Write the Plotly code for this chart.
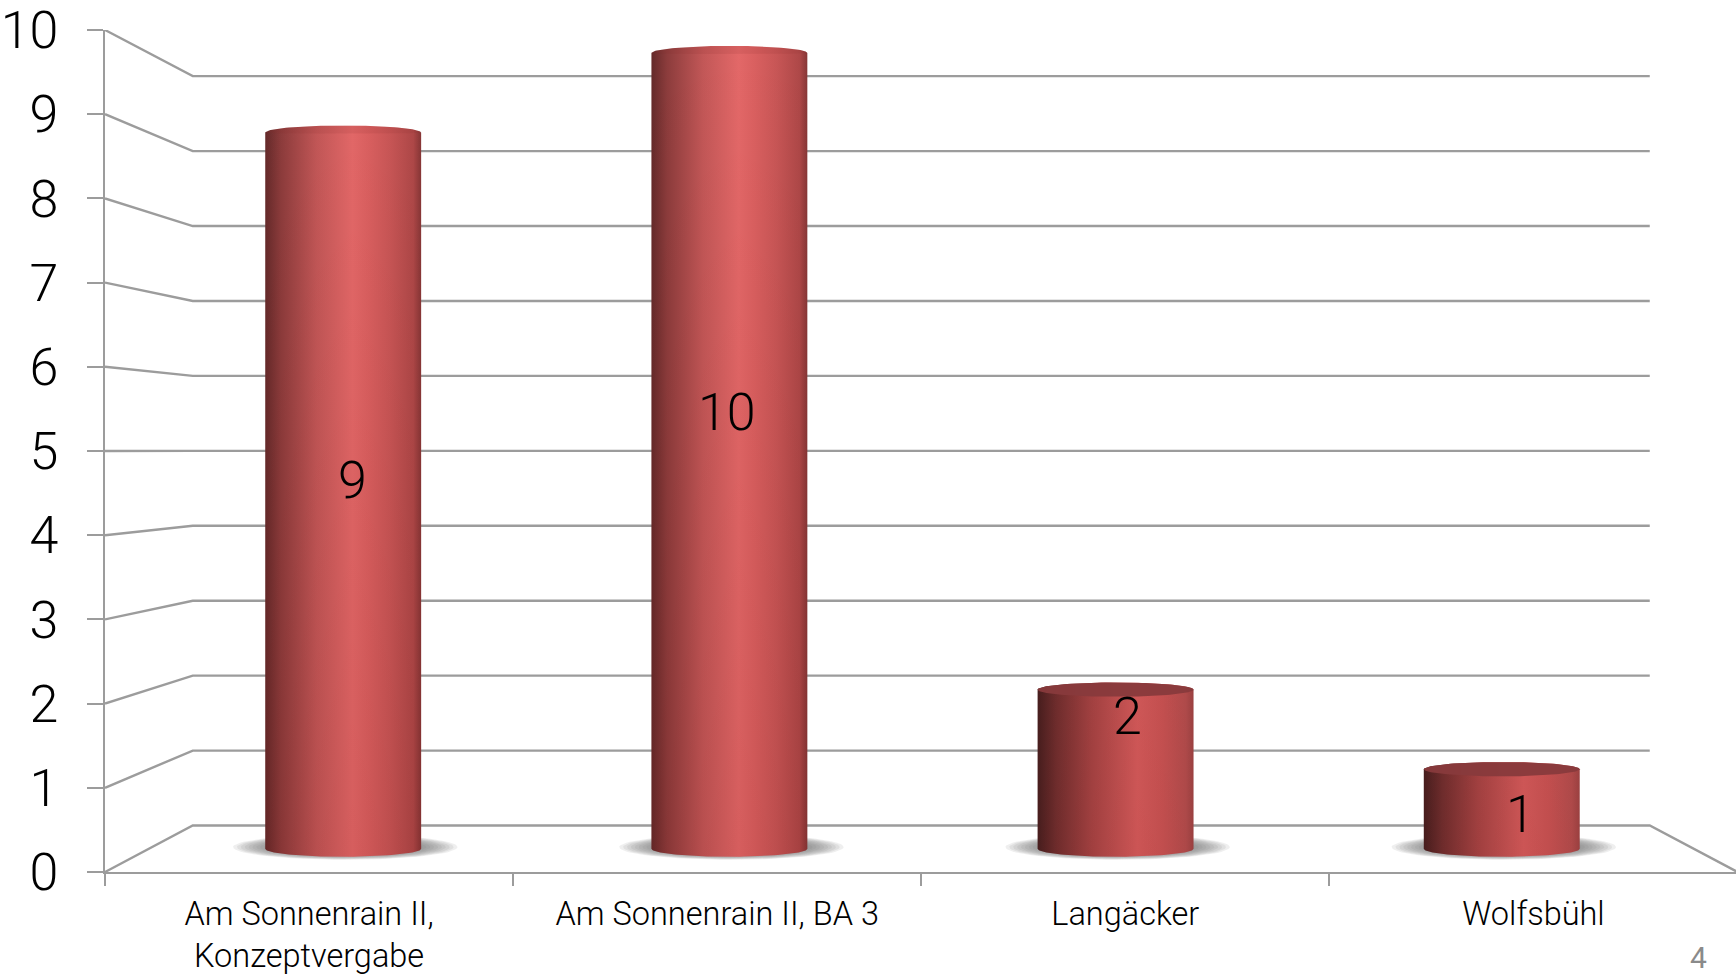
import numpy as np
import plotly.graph_objects as go

# ---- data ----
categories = ["Am Sonnenrain II,<br>Konzeptvergabe", "Am Sonnenrain II, BA 3", "Langäcker", "Wolfsbühl"]
values = [9, 10, 2, 1]
y_ticks = list(range(0, 11))
page_number = "4"

# ---- style ----
FONT = "Roboto"
WEIGHT = 300
GRID = "#9c9c9c"
TEXT = "#000000"
LEFT = 104.5
BOTTOM = 102
TOP = 30
X_END = (1736 - LEFT) / 408.25
SHRINK_X = 0.1075   # perspective shrink of the depth box
SHRINK_Y = 0.11
FLOOR_RISE = 0.552  # rise of the back floor edge in y units
BAR_SHIFT = 0.003
HALF_BAR = 0.191
RY_BOTTOM = 0.095
RY_TOP = 0.085

label_dx = [9, -2, 12, 19]
label_dy = [10, 38, 53, -6]

tall_scale = [[0, "#642a2a"], [0.1, "#8c3c3c"], [0.33, "#c25757"], [0.56, "#e36868"],
              [0.66, "#da6060"], [0.8, "#c85656"], [0.95, "#ae4848"], [1, "#863636"]]
short_scale = [[0, "#452020"], [0.12, "#703030"], [0.35, "#a84646"], [0.64, "#d85e5e"],
               [0.8, "#cc5656"], [0.95, "#b65050"], [1, "#a04646"]]


def project(x, v, d):
    """Map a point of the 3-D box (category x, value v, depth d 0..1) to the axes."""
    return 2 + (x - 2) * (1 - SHRINK_X * d), FLOOR_RISE * d + v * (1 - SHRINK_Y * d)


fig = go.Figure()

# walls and floor
gx, gy = [], []
for v in y_ticks:
    for x, d in [(0, 0), (0, 1), (4, 1)]:
        px, py = project(x, v, d)
        gx.append(px)
        gy.append(py)
    if v == 0:
        px, py = project(4, 0, 0)
        gx.append(px)
        gy.append(py)
    gx.append(None)
    gy.append(None)
fig.add_trace(go.Scatter(x=gx, y=gy, mode="lines", line=dict(color=GRID, width=2.4),
                         hoverinfo="skip", showlegend=False))

theta = np.linspace(0, np.pi, 60)
annotations = []
for i, v in enumerate(values):
    cx, base = project(i + 0.5, 0, 0.5)
    _, top = project(i + 0.5, v, 0.5)
    cx += BAR_SHIFT
    short = v <= 2

    # soft floor shadow
    t_full = np.linspace(0, 2 * np.pi, 80)
    for k in np.linspace(1.0, 0.55, 14):
        fig.add_trace(go.Scatter(
            x=cx + 0.005 + 0.275 * k * np.cos(t_full),
            y=base + 0.02 + 0.15 * k * np.sin(t_full),
            mode="lines", fill="toself", line=dict(width=0),
            fillcolor="rgba(110,110,110,0.11)", hoverinfo="skip", showlegend=False))

    # cylinder silhouette
    xs = np.concatenate([cx - HALF_BAR * np.cos(theta), cx + HALF_BAR * np.cos(theta)])
    ys = np.concatenate([base - RY_BOTTOM * np.sin(theta), top + RY_TOP * np.sin(theta)])
    fig.add_trace(go.Scatter(
        x=xs, y=ys, mode="lines", fill="toself", line=dict(width=0),
        fillgradient=dict(type="horizontal", colorscale=short_scale if short else tall_scale),
        hoverinfo="skip", showlegend=False))
    # darkening towards the floor
    fig.add_trace(go.Scatter(
        x=xs, y=ys, mode="lines", fill="toself", line=dict(width=0),
        fillgradient=dict(type="vertical", start=0, stop=10,
                          colorscale=[[0, "rgba(90,0,0,0.10)"], [1, "rgba(90,0,0,0)"]]),
        hoverinfo="skip", showlegend=False))

    # top cap
    front = RY_TOP if short else 0.012
    cap_x = np.concatenate([cx - HALF_BAR * np.cos(theta), cx + HALF_BAR * np.cos(theta)])
    cap_y = np.concatenate([top - front * np.sin(theta), top + RY_TOP * np.sin(theta)])
    fig.add_trace(go.Scatter(
        x=cap_x, y=cap_y, mode="lines", fill="toself", line=dict(width=0),
        fillcolor="rgba(136,58,60,0.95)" if short else "rgba(130,40,42,0.12)",
        hoverinfo="skip", showlegend=False))

    annotations.append(dict(
        x=cx, y=(base + top) / 2, xref="x", yref="y", text=str(v), showarrow=False,
        xanchor="center", yanchor="middle",
        xshift=label_dx[i], yshift=label_dy[i], font=dict(family=FONT, size=52, color=TEXT, weight=WEIGHT)))

annotations.append(dict(
    x=(1698 - LEFT) / (1736 - LEFT), y=-(957 - (974 - BOTTOM)) / (974 - BOTTOM - TOP),
    xref="paper", yref="paper", text=page_number, xanchor="center", yanchor="middle",
    showarrow=False, font=dict(family=FONT, size=30, color="#8a8a8a", weight=400)))

fig.update_layout(
    width=1736, height=974, autosize=False,
    margin=dict(l=LEFT, r=0, t=TOP, b=BOTTOM),
    paper_bgcolor="#ffffff", plot_bgcolor="#ffffff",
    showlegend=False, annotations=annotations,
    xaxis=dict(
        range=[0, X_END], showgrid=False, zeroline=False, showline=True, automargin=False,
        linecolor=GRID, linewidth=2.4,
        tickmode="array", tickvals=[0.5, 1.5, 2.5, 3.5], ticktext=categories, ticks="", tickangle=0,
        ticklabelstandoff=12, ticklabeloverflow="allow",
        tickfont=dict(family=FONT, size=32.5, color=TEXT, weight=WEIGHT),
        minor=dict(tickmode="array", tickvals=[0, 1, 2, 3], ticks="outside", ticklen=12,
                   tickcolor=GRID, tickwidth=2.4, showgrid=False),
    ),
    yaxis=dict(
        range=[0, 10], showgrid=False, zeroline=False, showline=True, automargin=False,
        linecolor=GRID, linewidth=2.4,
        tickmode="array", tickvals=y_ticks, ticks="outside", ticklen=16,
        tickcolor=GRID, tickwidth=2.4, ticklabelstandoff=18, ticklabeloverflow="allow",
        tickfont=dict(family=FONT, size=52, color=TEXT, weight=WEIGHT),
    ),
)

fig.write_html("out.html", config={"displayModeBar": False},
               post_script="document.body.style.margin='0';document.body.style.overflow='hidden';")
